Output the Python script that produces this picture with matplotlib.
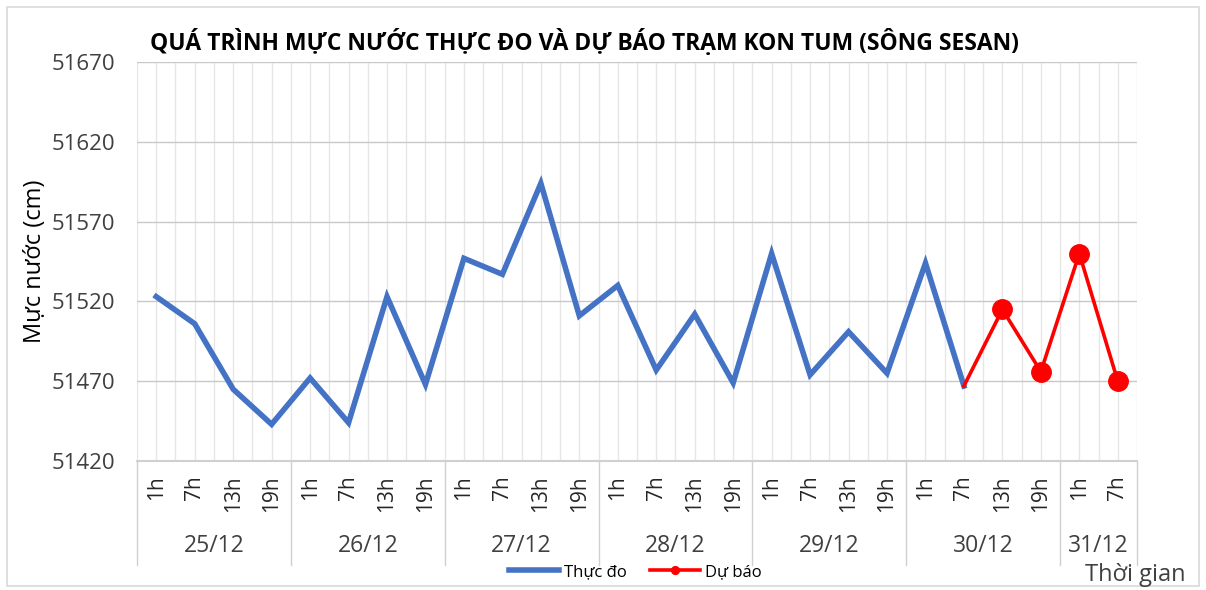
import numpy as np
import matplotlib
matplotlib.use('Agg')
import matplotlib.pyplot as plt
from matplotlib.lines import Line2D
from matplotlib.patches import Rectangle
from matplotlib.transforms import blended_transform_factory

plt.rcParams['font.family'] = ['Open Sans', 'DejaVu Sans']

########################### data ############################
dates = ['25/12', '26/12', '27/12', '28/12', '29/12', '30/12', '31/12']
hours_per_date = [4, 4, 4, 4, 4, 4, 2]
hours = ['1h', '7h', '13h', '19h'] * 6 + ['1h', '7h']

thuc_do = [51523, 51506, 51465, 51443, 51472, 51444, 51523, 51468,
           51547, 51537, 51594, 51511, 51530, 51477, 51512, 51469,
           51550, 51474, 51501, 51475, 51544, 51467]
du_bao = [51467, 51515, 51476, 51550, 51470]

y_ticks = [51420, 51470, 51520, 51570, 51620, 51670]

title = 'QUÁ TRÌNH MỰC NƯỚC THỰC ĐO VÀ DỰ BÁO TRẠM KON TUM (SÔNG SESAN)'

########################### style ############################
blue = '#4472C4'
red = '#FF0000'
grid_h = '#C8C8C8'
grid_v = '#E6E6E6'
axis_col = '#D0D0D0'
text_col = '#404040'

fig = plt.figure(figsize=(12.06, 5.90), dpi=100)
ax = fig.add_axes([0.1136, 0.2186, 0.8292, 0.6763])

n = len(hours)
x_all = np.arange(n)
x_obs = x_all[:len(thuc_do)]
x_fc = x_all[len(thuc_do) - 1:len(thuc_do) - 1 + len(du_bao)]

# vertical light grid at every half category
for xv in np.arange(-0.5, n, 0.5):
    ax.axvline(xv, color=grid_v, linewidth=1.0, zorder=0)
for yv in y_ticks[1:]:
    ax.axhline(yv, color=grid_h, linewidth=1.0, zorder=0)

ax.plot(x_obs, thuc_do, color=blue, linewidth=4.0, solid_joinstyle='miter',
        zorder=3, label='Thực đo')
ax.plot(x_fc, du_bao, color=red, linewidth=2.6, marker='o', markersize=14,
        markevery=list(range(1, len(du_bao))), zorder=4, label='Dự báo')

ax.set_xlim(-0.5, n - 0.5)
ax.set_ylim(y_ticks[0], y_ticks[-1])
ax.set_yticks(y_ticks)
ax.set_xticks(x_all)
ax.set_xticklabels(hours, rotation=90, fontsize=15, color='#262626')
ax.tick_params(axis='y', length=0, labelsize=16, labelcolor=text_col, pad=16)
ax.tick_params(axis='x', length=0, pad=10)
for lab in ax.get_xticklabels():
    lab.set_verticalalignment('top')

for s in ['top', 'right', 'left']:
    ax.spines[s].set_visible(False)
ax.spines['bottom'].set_color(axis_col)
ax.spines['bottom'].set_linewidth(1.5)

# date group labels and separators
trans = blended_transform_factory(ax.transData, ax.transAxes)
start = -0.5
for d, k in zip(dates, hours_per_date):
    ax.add_line(Line2D([start, start], [0, -0.26], transform=trans,
                       color=axis_col, linewidth=1.0, clip_on=False))
    ax.text(start + k / 2, -0.213, d, transform=trans, ha='center', va='center',
            fontsize=16.5, color=text_col)
    start += k
ax.add_line(Line2D([start, start], [0, -0.26], transform=trans,
                   color=axis_col, linewidth=1.0, clip_on=False))

ax.set_ylabel('Mực nước (cm)', fontsize=17, color='black', labelpad=8)
ax.yaxis.set_label_coords(-0.09, 0.5)

fig.text(0.485, 0.928, title, ha='center', va='center', fontsize=16.5,
         fontweight='bold', color='black')
fig.text(0.941, 0.026, 'Thời gian', ha='center', va='center', fontsize=17,
         color=text_col)

leg = fig.legend(loc='center', bbox_to_anchor=(0.527, 0.031), ncol=2,
                 frameon=False, fontsize=12, handlelength=3.0,
                 columnspacing=1.4, handletextpad=0.3, markerscale=0.4)

fig.patches.append(Rectangle((0.006, 0.006), 0.988, 0.982, transform=fig.transFigure,
                             fill=False, edgecolor='#D9D9D9', linewidth=1.2))

fig.savefig('out.png', dpi=100)
